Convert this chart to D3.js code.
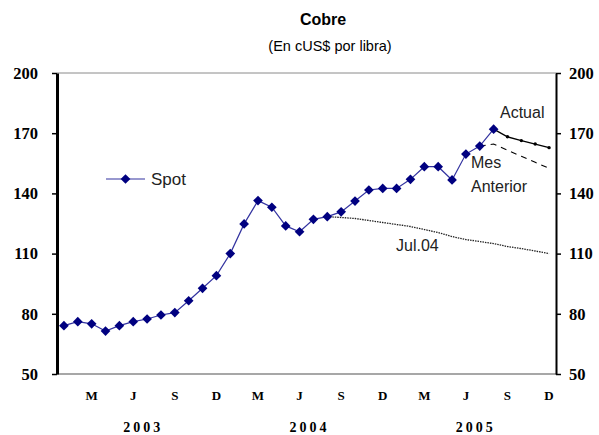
<!DOCTYPE html>
<html>
<head>
<meta charset="utf-8">
<script src="https://cdn.jsdelivr.net/npm/d3@7"></script>
<style>
  body { margin: 0; background: #fff; }
  svg { display: block; }
</style>
</head>
<body>
<svg id="chart" width="599" height="435"></svg>
<script>
"use strict"

// monthly, Jan 2003 .. Dec 2005 (index 0..35)
var spot = [74.1, 76.1, 75.0, 71.4, 74.1, 76.1, 77.4, 79.4, 80.6, 86.5, 92.7, 99.0,
            110.0, 124.8, 136.4, 133.1, 123.8, 120.9, 127.1, 128.4, 130.8, 136.2, 141.7, 142.5,
            142.5, 147.0, 153.3, 153.3, 146.7, 159.6, 163.6, 172.0];
var actualStart = 31;
var actual = [172.0, 168.2, 166.3, 164.6, 162.8];
var mesAntStart = 30;
var mesAnterior = [163.6, 164.6, 161.5, 158.5, 155.5, 152.5];
var julStart = 19;
var jul04 = [128.4, 128.0, 127.5, 126.5, 125.5, 124.5, 123.5, 122.0, 120.5, 118.5,
             117.0, 116.0, 115.0, 113.5, 112.5, 111.3, 110.0];
var yTicks = [50, 80, 110, 140, 170, 200];
var monthLabels = ['M', 'J', 'S', 'D', 'M', 'J', 'S', 'D', 'M', 'J', 'S', 'D'];
var monthLabelIdx = [2, 5, 8, 11, 14, 17, 20, 23, 26, 29, 32, 35];
var years = ['2003', '2004', '2005'];

var svg = d3.select('#chart');
var plotLeft = 57, plotRight = 556, plotTop = 73, plotBottom = 374;

var x = d3.scaleLinear().domain([0, 36]).range([plotLeft, plotRight]);
var y = d3.scaleLinear().domain([50, 200]).range([plotBottom, plotTop]);
var xm = function(i) { return x(i + 0.5); };

// title
svg.append('text').attr('x', 323).attr('y', 25)
    .attr('text-anchor', 'middle')
    .attr('font-family', 'Liberation Sans, Arial, sans-serif')
    .attr('font-weight', 'bold').attr('font-size', '16px')
    .text('Cobre');
svg.append('text').attr('x', 330).attr('y', 51)
    .attr('text-anchor', 'middle')
    .attr('font-family', 'Liberation Sans, Arial, sans-serif')
    .attr('font-size', '14.5px')
    .text('(En cUS$ por libra)');

// frame top / bottom
svg.append('line').attr('x1', plotLeft).attr('x2', plotRight)
    .attr('y1', plotTop).attr('y2', plotTop)
    .style('stroke', '#8a8a8a').style('stroke-width', 1);
svg.append('line').attr('x1', plotLeft).attr('x2', plotRight)
    .attr('y1', plotBottom).attr('y2', plotBottom)
    .style('stroke', '#8a8a8a').style('stroke-width', 1.5);

// y axes
var yl = svg.append('g').attr('transform', 'translate(' + plotLeft + ',0)')
    .call(d3.axisLeft(y).tickValues(yTicks).tickSize(5).tickSizeOuter(0).tickPadding(14));
var yr = svg.append('g').attr('transform', 'translate(' + plotRight + ',0)')
    .call(d3.axisRight(y).tickValues(yTicks).tickSize(5).tickSizeOuter(0).tickPadding(8));
yl.select('.domain').style('stroke', '#000').style('stroke-width', 3);
yr.select('.domain').style('stroke', '#000').style('stroke-width', 2);
[yl, yr].forEach(function(g) {
    g.selectAll('.tick line').style('stroke', '#000').style('stroke-width', 1.5);
    g.selectAll('.tick text')
        .attr('font-family', 'Liberation Serif, Times New Roman, serif')
        .attr('font-weight', 'bold').attr('font-size', '16.5px')
        .style('fill', '#000');
});

// x labels
svg.selectAll('text.month').data(monthLabelIdx)
    .enter().append('text')
    .attr('class', 'month')
    .attr('x', d => xm(d))
    .attr('y', 400)
    .attr('text-anchor', 'middle')
    .attr('font-family', 'Liberation Serif, Times New Roman, serif')
    .attr('font-weight', 'bold').attr('font-size', '13px')
    .text((d, i) => monthLabels[i]);
svg.selectAll('text.year').data(years)
    .enter().append('text')
    .attr('class', 'year')
    .attr('x', (d, i) => x(i * 12 + 6) + 3)
    .attr('y', 432)
    .attr('text-anchor', 'middle')
    .attr('font-family', 'Liberation Serif, Times New Roman, serif')
    .attr('font-weight', 'bold').attr('font-size', '14px')
    .attr('letter-spacing', '3px')
    .text(d => d);

// projections
var line = d3.line().x(d => xm(d.i)).y(d => y(d.v));
var toPts = function(arr, start) {
    return arr.map(function(v, k) { return { i: start + k, v: v }; });
};

svg.append('path').datum(toPts(jul04, julStart))
    .attr('d', line).attr('fill', 'none')
    .style('stroke', '#222').style('stroke-width', 1.3)
    .style('stroke-dasharray', '1.5,1');
svg.append('path').datum(toPts(mesAnterior, mesAntStart))
    .attr('d', line).attr('fill', 'none')
    .style('stroke', '#000').style('stroke-width', 1.1)
    .style('stroke-dasharray', '6,5');
var act = toPts(actual, actualStart);
svg.append('path').datum(act)
    .attr('d', line).attr('fill', 'none')
    .style('stroke', '#000').style('stroke-width', 1.3);
svg.selectAll('circle.act').data(act.slice(1))
    .enter().append('circle')
    .attr('class', 'act')
    .attr('cx', d => xm(d.i)).attr('cy', d => y(d.v))
    .attr('r', 1.7).style('fill', '#000');

// spot
var sp = toPts(spot, 0);
svg.append('path').datum(sp)
    .attr('d', line).attr('fill', 'none')
    .style('stroke', '#3333a0').style('stroke-width', 1.2);
var diamond = d3.symbol().type(d3.symbolDiamond2).size(60);
svg.selectAll('path.mk').data(sp)
    .enter().append('path')
    .attr('class', 'mk')
    .attr('d', diamond)
    .attr('transform', d => 'translate(' + xm(d.i) + ',' + y(d.v) + ')')
    .style('fill', '#000080');

// legend
svg.append('line').attr('x1', 106).attr('x2', 145).attr('y1', 179).attr('y2', 179)
    .style('stroke', '#3333a0').style('stroke-width', 1.2);
svg.append('path').attr('d', diamond)
    .attr('transform', 'translate(125.5,179)').style('fill', '#000080');
svg.append('text').attr('x', 151).attr('y', 185)
    .attr('font-family', 'Liberation Sans, Arial, sans-serif')
    .attr('font-size', '17px').style('fill', '#222')
    .text('Spot');

// annotations
var note = function(tx, ty, s) {
    svg.append('text').attr('x', tx).attr('y', ty)
        .attr('font-family', 'Liberation Sans, Arial, sans-serif')
        .attr('font-size', '16px').style('fill', '#222')
        .text(s);
};
note(500, 118, 'Actual');
note(471, 168, 'Mes');
note(471, 192, 'Anterior');
note(396, 251, 'Jul.04');
</script>
</body>
</html>
